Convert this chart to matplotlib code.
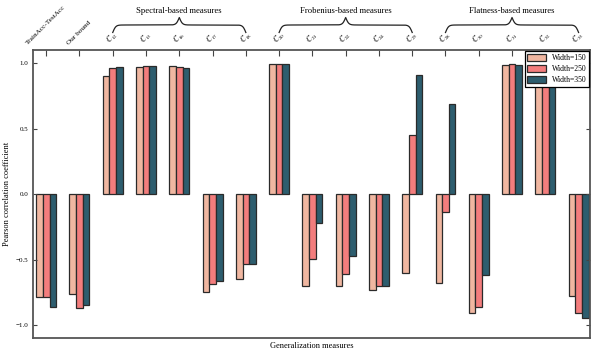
import numpy as np
import matplotlib
matplotlib.use('Agg')
import matplotlib.pyplot as plt
from matplotlib.transforms import blended_transform_factory

plt.rcParams['font.family'] = 'Liberation Serif'
plt.rcParams['mathtext.fontset'] = 'stix'

# measures on the x axis
labels = ['TrainAcc-TestAcc', 'Our bound',
          '$C_{12}$', '$C_{13}$', '$C_{16}$', '$C_{17}$', '$C_{18}$',
          '$C_{20}$', '$C_{21}$', '$C_{22}$', '$C_{24}$', '$C_{25}$',
          '$C_{28}$', '$C_{30}$', '$C_{31}$', '$C_{32}$', '$C_{33}$']

# pearson correlation per width
w150 = [-0.79, -0.76, 0.90, 0.97, 0.98, -0.75, -0.65, 0.995, -0.70, -0.705, -0.73, -0.605,
        -0.68, -0.91, 0.983, 0.98, -0.78]
w250 = [-0.79, -0.87, 0.96, 0.975, 0.97, -0.685, -0.535, 0.995, -0.495, -0.61, -0.705, 0.45,
        -0.14, -0.865, 0.993, 0.985, -0.905]
w350 = [-0.86, -0.85, 0.97, 0.98, 0.965, -0.665, -0.535, 0.995, -0.22, -0.47, -0.70, 0.91,
        0.685, -0.62, 0.988, 0.98, -0.945]

series = ['Width=150', 'Width=250', 'Width=350']
colors = ['#f0b7a1', '#f37d7d', '#2d5d6e']

groups = ['Spectral-based measures', 'Frobenius-based measures', 'Flatness-based measures']
group_span = [(2, 6), (7, 11), (12, 16)]

fig = plt.figure(figsize=(5.98, 3.57), dpi=100)
ax = fig.add_axes([0.055, 0.053, 0.932, 0.807])

x = np.arange(len(labels))
bw = 0.2
for i, (vals, name) in enumerate(zip([w150, w250, w350], series)):
    ax.bar(x + (i - 1) * bw, vals, bw, color=colors[i], edgecolor='#2a2a2a',
           linewidth=0.9, label=name)

ax.set_xlim(-0.4, 16.35)
ax.set_ylim(-1.1, 1.1)
ax.set_yticks([-1.0, -0.5, 0.0, 0.5, 1.0])
ax.xaxis.tick_top()
ax.set_xticks(x)
ax.set_xticklabels(labels, rotation=45, fontsize=5.2)
for t in ax.get_xticklabels()[2:]:
    t.set_fontsize(5.5)
ax.tick_params(axis='x', direction='in', length=4, pad=3, colors='#444444', labelcolor='black')
ax.tick_params(axis='y', direction='in', length=3, labelsize=5, right=True,
               colors='#444444', labelcolor='black')
for s in ax.spines.values():
    s.set_color('#555555')
    s.set_linewidth(1.3)

ax.set_ylabel('Pearson correlation coefficient', fontsize=6, labelpad=3)
ax.set_xlabel('Generalization measures', fontsize=6, labelpad=3)

leg = ax.legend(loc='upper right', fontsize=5.5, fancybox=False, framealpha=1,
                edgecolor='black', borderaxespad=0.15, handlelength=2.4, handleheight=1.0,
                labelspacing=0.4, borderpad=0.35, handletextpad=0.8)
leg.get_frame().set_linewidth(0.9)
leg.set_zorder(5)

# curly braces above the grouped measures
tr = blended_transform_factory(ax.transData, fig.transFigure)
def brace(x0, x1, ybase, h, text):
    xs = np.linspace(x0, x1, 401)
    half = xs[:201]
    beta = 22.0
    yh = 1 / (1 + np.exp(-beta * (half - half[0]))) + 1 / (1 + np.exp(-beta * (half - half[-1])))
    ys = np.concatenate((yh, yh[-2::-1]))
    ys = ybase + (ys - 0.5) * h
    ax.plot(xs, ys, color='#222222', lw=0.9, transform=tr, clip_on=False)
    fig.text(0, 0.97, text, transform=tr, ha='center', va='center', fontsize=6.2).set_x((x0 + x1) / 2)

for name, (a, b) in zip(groups, group_span):
    brace(a, b, 0.909, 0.042, name)

fig.savefig('out.png', dpi=100)
